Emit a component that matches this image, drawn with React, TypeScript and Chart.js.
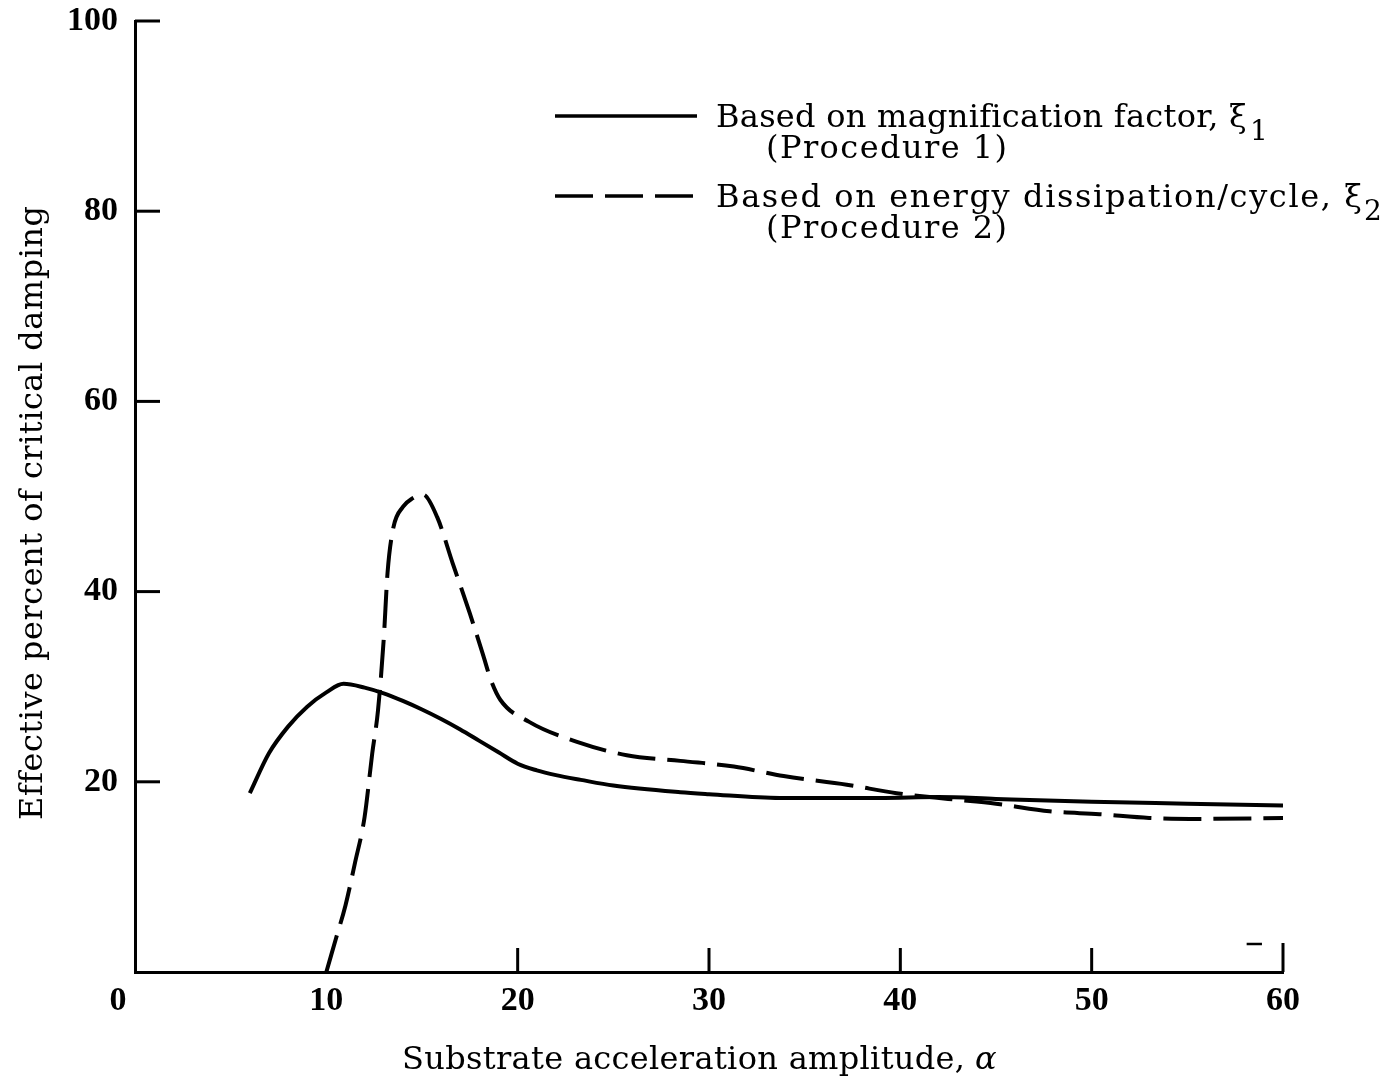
import React, { useEffect, useRef } from "react";
import { Chart, registerables } from "chart.js";

Chart.register(...registerables);

// Procedure 1 (solid): based on magnification factor
const solidX = [6, 7, 8, 9, 10, 10.9, 12, 13, 14, 15, 16, 17, 18, 19, 20, 21, 22, 23.3, 25, 28.5, 30, 33.7, 38.9, 42, 45, 50, 55, 60];
const solidY = [18.8, 23.0, 25.8, 27.9, 29.4, 30.3, 29.9, 29.3, 28.5, 27.6, 26.6, 25.5, 24.3, 23.1, 21.9, 21.2, 20.7, 20.2, 19.6, 18.9, 18.7, 18.3, 18.3, 18.4, 18.2, 17.9, 17.7, 17.5];

// Procedure 2 (dashed): based on energy dissipation per cycle
const dashedX = [10, 10.5, 11, 11.5, 12, 12.4, 12.7, 13.0, 13.2, 13.5, 14.0, 14.5, 15.05, 15.8, 16.6, 17.5, 18.2, 18.6, 19.1, 20.6, 23.1, 25.7, 28.5, 31.3, 33.9, 37.2, 39.8, 42.5, 45, 47.8, 50.4, 53, 55.7, 60];
const dashedY = [0, 3.5, 7, 11.5, 16.3, 23, 27.5, 35, 42, 46.7, 48.9, 49.8, 50.2, 47.8, 43, 37.7, 33.3, 30.7, 28.6, 26.3, 24.2, 22.8, 22.2, 21.6, 20.6, 19.7, 18.8, 18.2, 17.7, 16.9, 16.6, 16.2, 16.1, 16.2];

const xTickMarks = [20, 30, 40, 50, 60];
const yTickMarks = [20, 40, 60, 80, 100];

const legendMain = ["Based on magnification factor, \u03BE", "Based on energy dissipation/cycle, \u03BE"];
const legendSub = ["1", "2"];
const legendProc = ["(Procedure 1)", "(Procedure 2)"];

const xTitle = "Substrate acceleration amplitude,";
const xTitleSymbol = "\u03B1";
const yTitle = "Effective percent of critical damping";

const SERIF = "'Liberation Serif', 'Times New Roman', serif";
const WIDE_SERIF = "'DejaVu Serif', 'Liberation Serif', serif";

function fitText(ctx: any, text: string, x: number, y: number, width: number) {
  ctx.letterSpacing = "0px";
  const natural = ctx.measureText(text).width;
  const n = Array.from(text).length;
  const ls = n > 1 ? (width - natural) / (n - 1) : 0;
  ctx.letterSpacing = `${ls}px`;
  ctx.fillText(text, x, y);
  ctx.letterSpacing = "0px";
}

const tickPlugin = {
  id: "inwardTicks",
  afterDraw(chart: any) {
    const ctx = chart.ctx;
    const xs = chart.scales.x;
    const ys = chart.scales.y;
    const y0 = ys.getPixelForValue(0);
    const x0 = xs.getPixelForValue(0);
    ctx.save();
    ctx.strokeStyle = "#000";
    ctx.lineWidth = 3;
    ctx.lineCap = "butt";
    xTickMarks.forEach((v) => {
      const px = xs.getPixelForValue(v);
      const len = v === 60 ? 29 : 24;
      ctx.beginPath();
      ctx.moveTo(px, y0);
      ctx.lineTo(px, y0 - len);
      ctx.stroke();
    });
    const stubY = y0 - 28;
    ctx.lineWidth = 2.5;
    ctx.beginPath();
    ctx.moveTo(xs.getPixelForValue(58.1), stubY);
    ctx.lineTo(xs.getPixelForValue(58.9), stubY);
    ctx.stroke();
    ctx.lineWidth = 3;
    yTickMarks.forEach((v) => {
      const py = ys.getPixelForValue(v);
      ctx.beginPath();
      ctx.moveTo(x0, py);
      ctx.lineTo(x0 + 25, py);
      ctx.stroke();
    });
    ctx.restore();
  },
};

const textPlugin = {
  id: "customText",
  afterDraw(chart: any) {
    const ctx = chart.ctx;
    ctx.save();
    ctx.fillStyle = "#000";
    ctx.strokeStyle = "#000";
    ctx.textBaseline = "alphabetic";
    ctx.textAlign = "left";

    // legend
    const rows = [
      { lineY: 116, base: 127, dash: [] as number[], endX: 1246, subX: 1250, procBase: 158 },
      { lineY: 196, base: 207, dash: [38, 12], endX: 1362, subX: 1364, procBase: 238 },
    ];
    rows.forEach((r, i) => {
      ctx.lineWidth = 3.5;
      ctx.setLineDash(r.dash);
      ctx.beginPath();
      ctx.moveTo(555, r.lineY);
      ctx.lineTo(697, r.lineY);
      ctx.stroke();
      ctx.setLineDash([]);
      ctx.font = `32px ${WIDE_SERIF}`;
      fitText(ctx, legendMain[i], 716, r.base, r.endX - 716);
      ctx.font = `28px ${WIDE_SERIF}`;
      ctx.fillText(legendSub[i], r.subX, r.base + 13);
      ctx.font = `32px ${WIDE_SERIF}`;
      fitText(ctx, legendProc[i], 766, r.procBase, 1007 - 766);
    });

    // x axis title
    ctx.font = `32px ${WIDE_SERIF}`;
    fitText(ctx, xTitle, 402, 1069, 965 - 402);
    ctx.font = `italic 32px ${WIDE_SERIF}`;
    ctx.fillText(xTitleSymbol, 975, 1069);

    // y axis title
    ctx.save();
    ctx.translate(42, 820);
    ctx.rotate(-Math.PI / 2);
    ctx.font = `32px ${WIDE_SERIF}`;
    fitText(ctx, yTitle, 0, 0, 820 - 207);
    ctx.restore();

    ctx.restore();
  },
};

export default function App() {
  const ref = useRef<HTMLCanvasElement | null>(null);
  useEffect(() => {
    if (!ref.current) return;
    const chart = new Chart(ref.current, {
      type: "line",
      data: {
        datasets: [
          {
            label: "Procedure 1",
            data: solidX.map((x, i) => ({ x, y: solidY[i] })),
            borderColor: "#000",
            borderWidth: 4,
            pointRadius: 0,
            cubicInterpolationMode: "monotone",
            fill: false,
          },
          {
            label: "Procedure 2",
            data: dashedX.map((x, i) => ({ x, y: dashedY[i] })),
            borderColor: "#000",
            borderWidth: 4,
            borderDash: [38, 12],
            pointRadius: 0,
            cubicInterpolationMode: "monotone",
            fill: false,
          },
        ],
      },
      options: {
        animation: false,
        responsive: false,
        layout: { padding: { top: 21, right: 101, left: 0, bottom: 0 } },
        plugins: { legend: { display: false }, tooltip: { enabled: false } },
        scales: {
          x: {
            type: "linear",
            min: 0,
            max: 60,
            grid: { display: false, drawTicks: false },
            border: { display: true, color: "#000", width: 3 },
            ticks: {
              stepSize: 10,
              color: "#000",
              padding: 9,
              font: { family: SERIF, size: 34, weight: "bold" },
              callback: (v: any) => (v === 0 ? "0    " : String(v)),
            },
            title: { display: false },
            afterFit: (s: any) => {
              s.height = 108;
              s.paddingLeft = 0;
              s.paddingRight = 0;
            },
          },
          y: {
            type: "linear",
            min: 0,
            max: 100,
            grid: { display: false, drawTicks: false },
            border: { display: true, color: "#000", width: 3 },
            ticks: {
              stepSize: 20,
              color: "#000",
              padding: 17,
              font: { family: SERIF, size: 34, weight: "bold" },
              callback: (v: any) => (v === 0 ? "" : String(v)),
            },
            title: { display: false },
            afterFit: (s: any) => {
              s.width = 135;
              s.paddingTop = 0;
              s.paddingBottom = 0;
            },
          },
        },
      },
      plugins: [tickPlugin, textPlugin],
    } as any);
    return () => chart.destroy();
  }, []);
  return (
    <div style={{ position: "absolute", left: 0, top: 0, width: 1384, height: 1080, background: "#fff" }}>
      <canvas ref={ref} width={1384} height={1080} />
    </div>
  );
}
